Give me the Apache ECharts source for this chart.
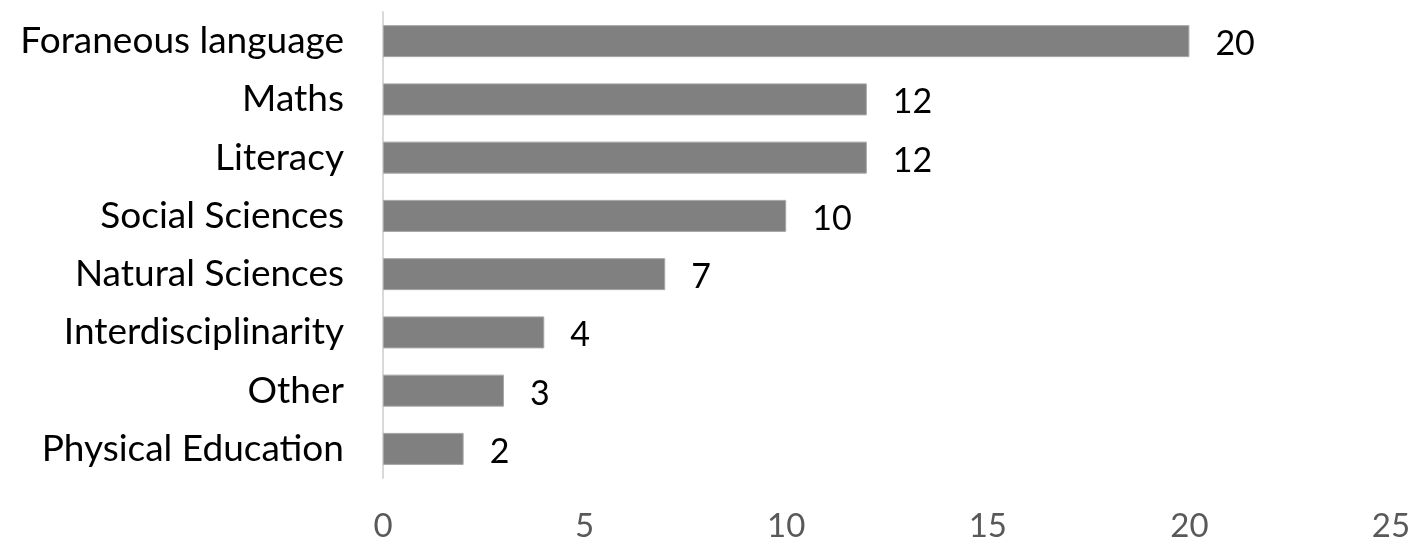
<!DOCTYPE html>
<html>
<head>
<meta charset="utf-8">
<script src="https://cdn.jsdelivr.net/npm/echarts@6/dist/echarts.min.js"></script>
<style>html,body{margin:0;padding:0;background:#fff}#c{width:1418px;height:552px}</style>
</head>
<body>
<div id="c"></div>
<script>
const categories = ["Foraneous language","Maths","Literacy","Social Sciences","Natural Sciences","Interdisciplinarity","Other","Physical Education"];
const values = [20,12,12,10,7,4,3,2];
const xTicks = [0,5,10,15,20,25];

const chart = echarts.init(document.getElementById('c'));
chart.setOption({
  animation: false,
  grid: {left: 383, right: 27, top: 12, bottom: 74, containLabel: false},
  xAxis: {
    type: 'value', min: xTicks[0], max: xTicks[xTicks.length-1], interval: 5,
    axisLine: {show: false}, axisTick: {show: false}, splitLine: {show: false},
    axisLabel: {color: '#595959', fontSize: 33, fontFamily: 'Lato', margin: 32}
  },
  yAxis: {
    type: 'category', data: categories, inverse: true,
    axisLine: {show: true, lineStyle: {color: '#d9d9d9', width: 2}},
    axisTick: {show: false},
    axisLabel: {color: '#000', fontSize: 37, fontFamily: 'Lato', margin: 39}
  },
  series: [{
    type: 'bar', data: values, barWidth: 32,
    itemStyle: {color: '#808080', borderColor: '#a6a6a6', borderWidth: 1},
    label: {show: true, position: 'right', distance: 26, color: '#000', fontSize: 34, fontFamily: 'Lato', offset: [0, 3]}
  }]
});
</script>
</body>
</html>
